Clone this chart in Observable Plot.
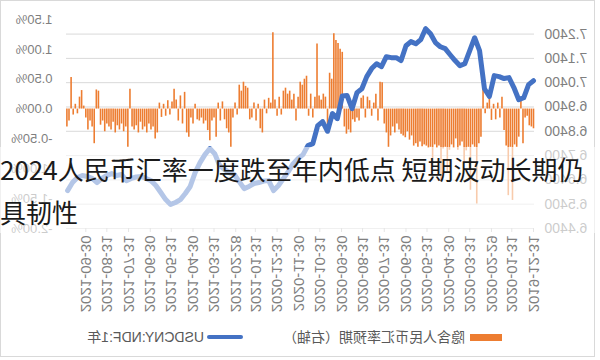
<!DOCTYPE html>
<html><head><meta charset="utf-8">
<script src="https://cdn.jsdelivr.net/npm/d3@7"></script>
<script src="https://cdn.jsdelivr.net/npm/@observablehq/plot@0.6"></script>
<style>
html,body{margin:0;padding:0;background:#fff;width:600px;height:360px;overflow:hidden;}
#wrap{position:relative;width:600px;height:360px;}
#chart{position:absolute;left:0;top:0;width:600px;height:360px;transform:scaleX(-1);transform-origin:300px 180px;}
#frame{position:absolute;left:5px;top:0;width:595px;height:357px;box-sizing:border-box;border:1px solid #d9d9d9;}
.layer{position:absolute;left:0;top:0;}
.leg{position:absolute;font:14px/20px "Liberation Sans","Noto Sans CJK SC",sans-serif;color:#595959;white-space:nowrap;}
#title{position:absolute;left:0;top:147px;width:600px;font:26px/43px "Noto Sans CJK SC",sans-serif;color:#1a1a1a;background:rgba(255,255,255,0.6);}
</style></head>
<body>
<div id="wrap">
  <div id="chart">
    <div id="frame"></div>
    <div id="l1" class="layer"></div>
    <div id="l2" class="layer"></div>
    <div id="l3" class="layer"></div>
    <div class="leg" style="left:98px;top:334px;width:32px;height:7px;background:#ED7D31"></div>
    <div class="leg" id="legOrange" style="left:135px;top:327px;"></div>
    <div class="leg" style="left:357px;top:335px;width:36px;height:4px;border-radius:2px;background:#4472C4"></div>
    <div class="leg" id="legBlue" style="left:396px;top:327px;"></div>
  </div>
  <div id="title"></div>
</div>
<script>
// ---- data ----
const titleText = "2024人民币汇率一度跌至年内低点 短期波动长期仍具韧性";
const seriesNames = ["隐含人民币汇率预期（右轴）", "USDCNY:NDF:1年"];
const startDate = "2019-12-31";
const endDate = "2021-10-29";
const xTickLabels = ["2019-12-31","2020-01-31","2020-02-29","2020-03-31","2020-04-30","2020-05-31","2020-06-30","2020-07-31","2020-08-31","2020-09-30","2020-10-31","2020-11-30","2020-12-31","2021-01-31","2021-02-28","2021-03-31","2021-04-30","2021-05-31","2021-06-30","2021-07-31","2021-08-31","2021-09-30"];
const cnyTicks = [6.44,6.54,6.64,6.74,6.84,6.94,7.04,7.14,7.24];
const pctTicks = [-2.0,-1.5,-1.0,-0.5,0.0,0.5,1.0,1.5];
// USDCNY:NDF:1年, weekly readings from 2019-12-31
const ndfWeekly = [7.048,7.032,6.978,6.970,7.020,7.061,7.057,7.065,7.069,6.983,
7.015,7.172,7.225,7.172,7.118,7.110,7.131,7.155,7.180,7.188,
7.205,7.241,7.262,7.217,7.200,7.209,7.192,7.131,7.143,7.143,
7.147,7.106,7.118,7.098,7.065,7.015,6.999,6.933,6.987,6.985,
6.892,6.913,6.840,6.880,6.863,6.789,6.781,6.744,6.728,6.707,
6.674,6.646,6.617,6.596,6.637,6.635,6.629,6.625,6.613,6.604,
6.633,6.662,6.670,6.683,6.699,6.748,6.769,6.744,6.711,6.670,
6.613,6.584,6.559,6.547,6.539,6.559,6.588,6.617,6.637,6.646,
6.654,6.652,6.646,6.637,6.662,6.658,6.666,6.658,6.646,6.629,
6.646,6.654,6.658,6.650,6.629,6.596];
// 隐含人民币汇率预期 (%), readings every 3 days from 2019-12-31
const impliedPct = [-0.33,-0.30,-0.28,-0.12,-0.15,-0.58,0.17,-0.47,-0.64,-0.60,
-1.53,-0.64,-1.45,-0.62,-0.36,0.20,-0.15,0.10,-0.18,0.08,
-0.19,0.25,0.10,-0.08,0.67,-0.47,-0.58,-1.59,-0.64,-0.60,
-1.36,-0.64,-0.70,-0.92,-0.55,-0.62,-0.69,-0.50,-0.66,-0.60,
-0.69,-1.05,-0.64,-0.67,-1.20,-0.62,-0.66,-0.60,-0.95,-0.64,
-0.66,-0.62,-0.60,-0.63,-0.55,-0.64,-0.58,-0.62,-0.45,-0.52,
-0.38,-0.48,-0.45,-0.42,-0.35,-0.25,-0.40,-0.30,-0.45,-0.64,
-0.40,-0.25,0.44,0.45,-0.20,0.25,0.10,-0.12,0.14,0.20,
-0.15,0.22,0.18,-0.20,-0.15,-0.22,-0.18,-0.40,-0.35,-0.42,
-0.30,0.95,1.00,1.10,1.15,1.26,0.50,0.60,-0.30,0.20,
0.25,0.15,0.22,1.09,0.20,-0.15,0.25,-0.12,0.55,0.50,
0.40,0.45,0.20,-0.20,0.25,0.15,0.30,0.25,0.35,0.30,
-0.10,0.20,-0.12,0.15,1.28,0.10,0.18,-0.08,0.15,-0.40,
-0.33,0.08,-0.20,0.10,-0.15,-0.18,0.35,0.38,0.45,0.30,
0.40,-0.10,0.10,-0.15,-0.64,-0.40,-0.33,-0.18,0.12,-0.20,
0.10,-0.47,-0.15,-0.20,-0.53,-0.36,-0.20,-0.25,-0.15,-0.20,
-0.18,0.08,-0.25,-0.15,-0.47,-0.40,0.28,-0.25,0.22,-0.20,
0.15,0.33,0.12,-0.10,0.14,-0.12,0.08,-0.14,0.10,-0.40,
-0.50,-0.30,-0.35,-0.25,-0.40,-0.30,-0.35,-0.22,-0.40,-0.28,
-0.35,-0.30,0.33,-0.64,-0.30,-0.38,-0.25,-0.35,-0.28,-0.40,
-0.22,-0.35,-0.30,-0.25,-0.38,-0.20,-0.27,0.30,0.32,-0.58,
-0.30,-0.20,-0.35,-0.15,0.05,0.31,0.20,-0.08,0.08,-0.10,
0.53,-0.20,-0.30];

// ---- build ----
const parse = d3.utcParse("%Y-%m-%d");
const x0 = parse(startDate), x1 = parse(endDate);
const lineData = ndfWeekly.map((v, k) => ({date: d3.utcDay.offset(x0, 7 * k), v}));
const barData = impliedPct.map((v, i) => ({date: d3.utcDay.offset(x0, 3 * i), v}));
const xTicks = xTickLabels.map(parse);

const base = {
  width: 600, height: 318, marginLeft: 66, marginRight: 66, marginTop: 19, marginBottom: 90,
  style: {fontFamily: '"Liberation Sans", Arial, sans-serif', color: "#7f7f7f", background: "transparent", overflow: "visible"},
};
const xs = {type: "utc", domain: [x0, x1]};

const p1 = Plot.plot({
  ...base,
  x: xs,
  y: {domain: [6.44, 7.30]},
  marks: [
    Plot.ruleY(cnyTicks, {stroke: "#d9d9d9", strokeWidth: 1}),
    Plot.axisY(cnyTicks, {anchor: "left", tickSize: 0, tickPadding: 11, tickFormat: d => d.toFixed(4), fontSize: 14, label: null}),
    Plot.axisX(xTicks, {anchor: "bottom", tickSize: 4, tickPadding: 3, tickRotate: -90, tickFormat: d3.utcFormat("%Y-%m-%d"), fontSize: 15, label: null, stroke: "#bfbfbf"})
  ]
});
const p2 = Plot.plot({
  ...base,
  x: {...xs, axis: null},
  y: {domain: [-2.0, 1.5]},
  marks: [
    Plot.ruleX(barData, {x: "date", y1: 0, y2: "v", stroke: "#ED7D31", strokeWidth: 1.6}),
    Plot.axisY(pctTicks, {anchor: "right", tickSize: 0, tickPadding: 13, tickFormat: d => d.toFixed(2) + "%", fontSize: 13, label: null})
  ]
});
const p3 = Plot.plot({
  ...base,
  x: {...xs, axis: null},
  y: {domain: [6.44, 7.30], axis: null},
  marks: [
    Plot.line(lineData, {x: "date", y: "v", stroke: "#4472C4", strokeWidth: 5, strokeLinejoin: "round", strokeLinecap: "round"})
  ]
});
document.getElementById("l1").appendChild(p1);
document.getElementById("l2").appendChild(p2);
document.getElementById("l3").appendChild(p3);
document.getElementById("legOrange").textContent = seriesNames[0];
document.getElementById("legBlue").textContent = seriesNames[1];
document.getElementById("title").textContent = titleText;
</script>
</body></html>
